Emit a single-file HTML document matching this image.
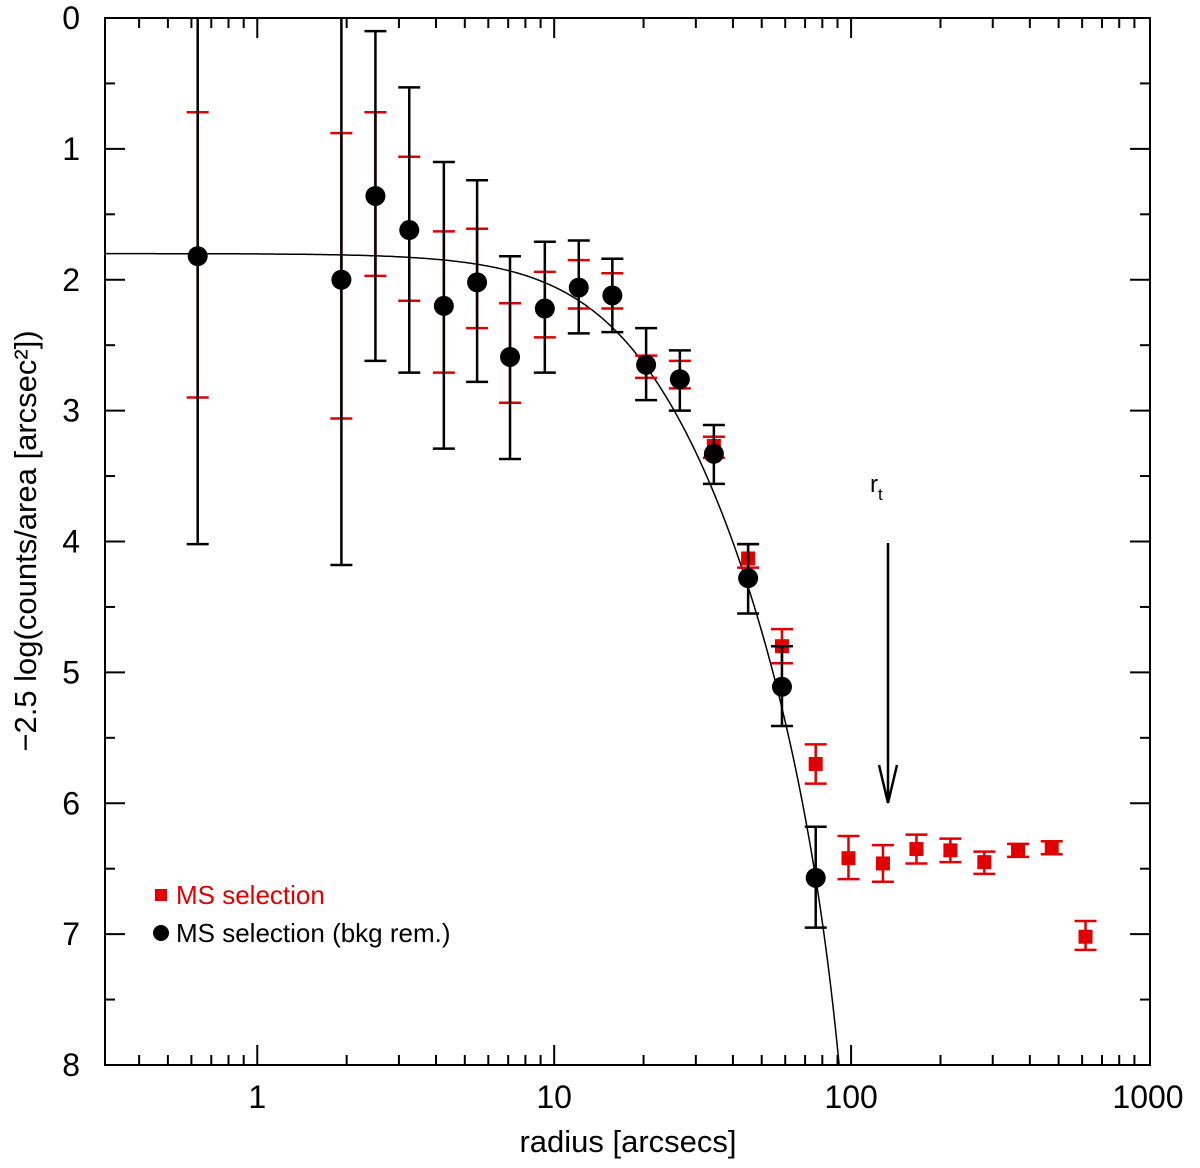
<!DOCTYPE html>
<html><head><meta charset="utf-8"><style>
html,body{margin:0;padding:0;background:#fff;width:1200px;height:1168px;overflow:hidden}
svg{display:block;font-family:"Liberation Sans","DejaVu Sans",sans-serif}
</style></head><body>
<svg id="chart" width="1200" height="1168" viewBox="0 0 1200 1168" xmlns="http://www.w3.org/2000/svg"></svg>
<script>
const radiusBlack=[0.63,1.92,2.5,3.25,4.25,5.5,7.1,9.3,12.1,15.7,20.4,26.5,34.5,45,58.5,76];
const magBlack=[1.82,2.0,1.36,1.62,2.2,2.02,2.59,2.22,2.06,2.12,2.65,2.76,3.33,4.28,5.11,6.57];
const errLoBlack=[-0.38,-0.18,0.1,0.53,1.1,1.24,1.82,1.71,1.7,1.84,2.37,2.54,3.11,4.02,4.8,6.18];
const errHiBlack=[4.02,4.18,2.62,2.71,3.29,2.78,3.37,2.71,2.41,2.4,2.92,3.0,3.56,4.55,5.41,6.95];
const radiusRed=[0.63,1.92,2.5,3.25,4.25,5.5,7.1,9.3,12.1,15.7,20.4,26.5,34.5,45,58.5,76,98,128,166,216,281,365,474,616];
const magRed=[1.82,2.0,1.36,1.62,2.2,2.02,2.59,2.22,2.06,2.12,2.65,2.76,3.27,4.13,4.8,5.7,6.42,6.46,6.35,6.36,6.45,6.36,6.34,7.02];
const errLoRed=[0.72,0.88,0.72,1.06,1.63,1.61,2.18,1.94,1.85,1.95,2.58,2.62,3.2,4.02,4.67,5.55,6.25,6.32,6.24,6.27,6.37,6.31,6.29,6.9];
const errHiRed=[2.9,3.06,1.97,2.16,2.71,2.37,2.94,2.44,2.22,2.22,2.75,2.83,3.36,4.2,4.93,5.85,6.58,6.6,6.46,6.45,6.54,6.41,6.39,7.12];
const yTicks=[0,1,2,3,4,5,6,7,8];
const xTicks=[1,10,100,1000];
const xTickLabels=["1","10","100","1000"];
const kingCore=22, kingTidal=115, kingZero=1.8;

const L=105,R=1150,T=18,B=1065;
const xmin=Math.log10(0.307), xmax=Math.log10(1000)+(R-1148)/297;
const X=r=>L+(Math.log10(r)-xmin)/(xmax-xmin)*(R-L);
const Y=v=>T+v/8*(B-T);
const svg=document.getElementById('chart');
const NS="http://www.w3.org/2000/svg";
function mk(tag,attrs,parent){const e=document.createElementNS(NS,tag);for(const k in attrs)e.setAttribute(k,attrs[k]);(parent||svg).appendChild(e);return e;}

const clip=mk('clipPath',{id:'pc'});mk('rect',{x:L,y:T,width:R-L,height:B-T},clip);

const frame=mk('rect',{x:L,y:T,width:R-L,height:B-T,fill:'none',stroke:'#000','stroke-width':2});



for(let v=0;v<=8;v+=0.5){const len=(v%1===0)?20:10;const y=Y(v);
 const t1=mk('line',{x1:L,x2:L+len,y1:y,y2:y,stroke:'#000','stroke-width':2});
 
 
 const t2=mk('line',{x1:R,x2:R-len,y1:y,y2:y,stroke:'#000','stroke-width':2});
 
 }
yTicks.forEach(v=>{const t=mk('text',{x:80,y:Y(v)+11,'font-size':32,'text-anchor':'end'});t.textContent=v;
 
 });
for(let d=-1;d<=2;d++){for(let m=1;m<=9;m++){const r=m*Math.pow(10,d);if(r<0.307)continue;const x=X(r);const len=m===1?20:10;
 const a=mk('line',{x1:x,x2:x,y1:B,y2:B-len,stroke:'#000','stroke-width':2});
 
 
 const b=mk('line',{x1:x,x2:x,y1:T,y2:T+len,stroke:'#000','stroke-width':2});
 
 }}
xTicks.forEach((r,i)=>{const t=mk('text',{x:X(r),y:1108,'font-size':32,'text-anchor':'middle'});t.textContent=xTickLabels[i];
 
 });
const xl=mk('text',{x:628,y:1152,'font-size':31,'text-anchor':'middle'});xl.textContent='radius [arcsecs]';


const yl=mk('text',{x:0,y:0,'font-size':31,'text-anchor':'middle',transform:'translate(36,541) rotate(-90)'});yl.textContent='−2.5 log(counts/area [arcsec²])';



const c0=Math.pow(1+Math.pow(kingTidal/kingCore,2),-0.5);
const k0=1-c0;
let d='';
for(let px=L;px<=R;px+=2){const r=Math.pow(10,xmin+(px-L)/(R-L)*(xmax-xmin));
 const f=Math.pow(1+Math.pow(r/kingCore,2),-0.5)-c0; if(f<=0)break;
 const m=kingZero-2.5*Math.log10(Math.pow(f/k0,2)); d+=(d?'L':'M')+px+','+Y(m).toFixed(1);}
const curve=mk('path',{d:d,fill:'none',stroke:'#000','stroke-width':1.5,'clip-path':'url(#pc)'});



const g=mk('g',{'clip-path':'url(#pc)'});
radiusRed.forEach((r,i)=>{const x=X(r);
 const e=mk('path',{d:`M${x},${Y(errLoRed[i])}V${Y(errHiRed[i])}M${x-11},${Y(errLoRed[i])}h22M${x-11},${Y(errHiRed[i])}h22`,stroke:'#e00000','stroke-width':2.5,fill:'none'},g);
 
 
 const p=mk('rect',{x:x-7,y:Y(magRed[i])-7,width:14,height:14,fill:'#e00000'},g);
 
 });
radiusBlack.forEach((r,i)=>{const x=X(r);
 const e=mk('path',{d:`M${x},${Y(errLoBlack[i])}V${Y(errHiBlack[i])}M${x-11},${Y(errLoBlack[i])}h22M${x-11},${Y(errHiBlack[i])}h22`,stroke:'#000','stroke-width':2.5,fill:'none'},g);
 
 
 const p=mk('circle',{cx:x,cy:Y(magBlack[i]),r:10,fill:'#000'},g);
 
 });

const ar=mk('path',{d:'M888,543V803M879,765L888,803L897,765',fill:'none',stroke:'#000','stroke-width':2.5});


const rt=mk('text',{x:870,y:492,'font-size':24});rt.innerHTML='r<tspan font-size="17" dy="8">t</tspan>';



const l1=mk('rect',{x:155,y:889,width:12,height:12,fill:'#e00000'});


const t1=mk('text',{x:176,y:904,'font-size':26,fill:'#e00000'});t1.textContent='MS selection';


const l2=mk('circle',{cx:161,cy:933,r:8,fill:'#000'});


const t2=mk('text',{x:176,y:942,'font-size':26});t2.textContent='MS selection (bkg rem.)';


</script>
</body></html>
